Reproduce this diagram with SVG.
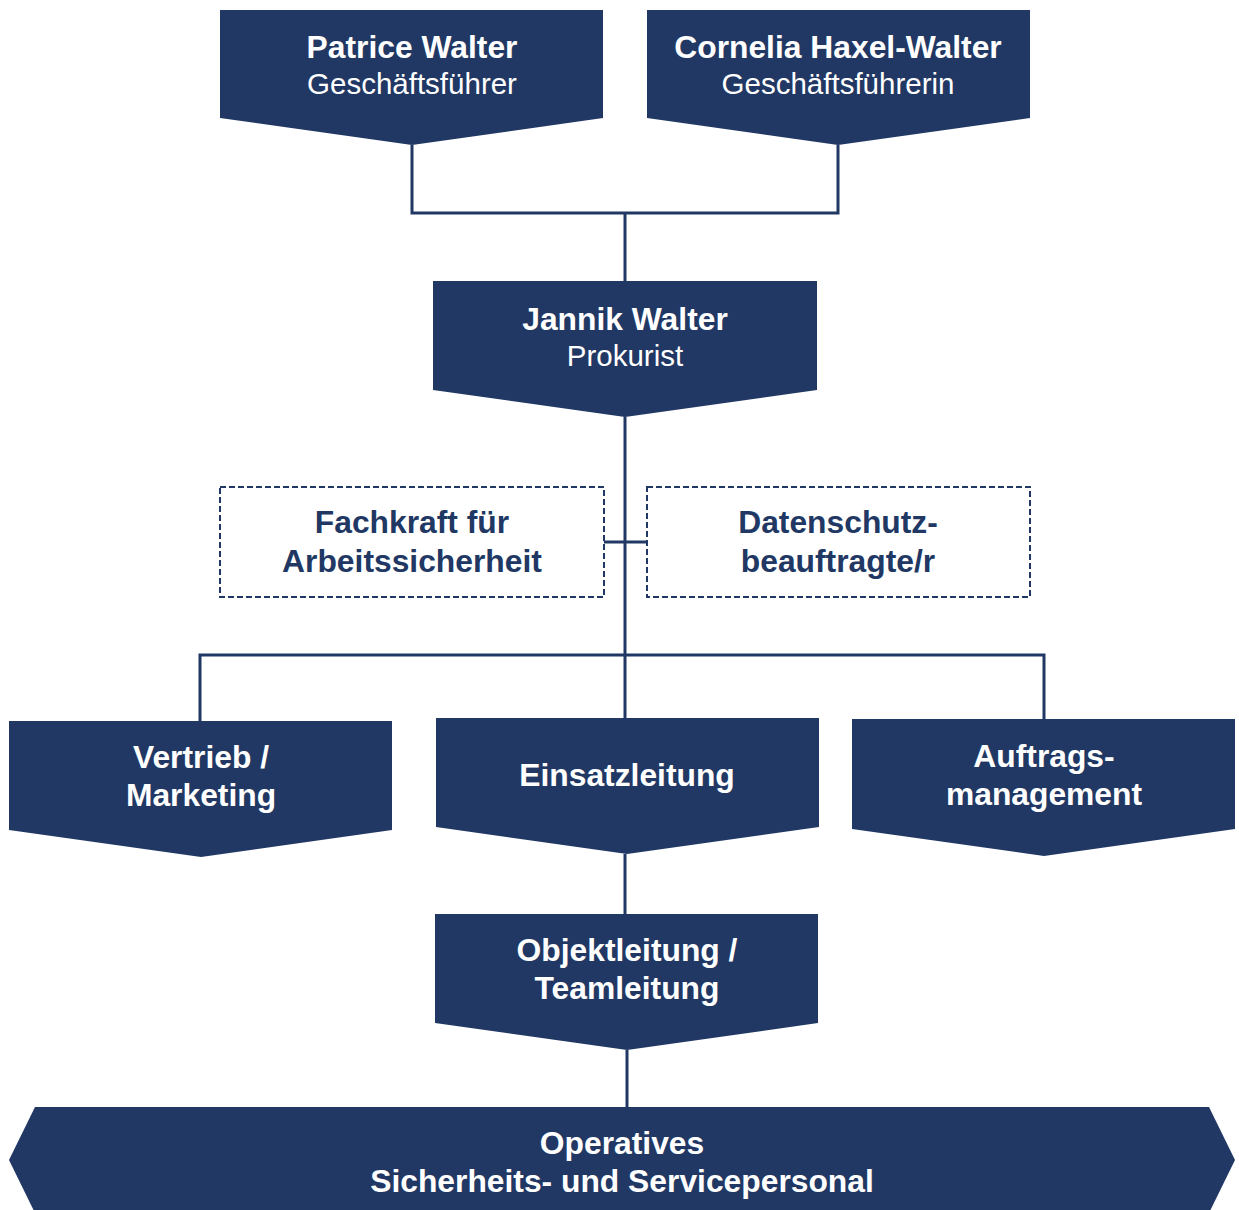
<svg xmlns="http://www.w3.org/2000/svg" width="1239" height="1210" viewBox="0 0 1239 1210">
<style>
.n{fill:#213864}
.d{fill:#fff;stroke:#213864;stroke-width:2;stroke-dasharray:6 3}
.c{fill:none;stroke:#213864;stroke-width:3}
text{font-family:"Liberation Sans",Arial,sans-serif;font-size:31.8px;text-anchor:middle}
.b{font-weight:bold;fill:#fff}
.r{fill:#fff;font-size:29.5px}
.db{font-weight:bold;fill:#213864}
</style>
<rect width="1239" height="1210" fill="#fff"/>
<g id="connectors">
<path class="c" d="M412 145V213H838V145M625 213V281"/>
<path class="c" d="M625 417V655M604 542H647"/>
<path class="c" d="M200 721V655H1044V719M625 655V718"/>
<path class="c" d="M625 854V914M627 1050V1108"/>
</g>
<g id="patrice">
<polygon class="n" points="220,10 603,10 603,118 412,145 220,118"/>
<text class="b" x="412" y="58">Patrice Walter</text>
<text class="r" x="412" y="94">Geschäftsführer</text>
</g>
<g id="cornelia">
<polygon class="n" points="647,10 1030,10 1030,118 838,145 647,118"/>
<text class="b" x="838" y="58">Cornelia Haxel-Walter</text>
<text class="r" x="838" y="94">Geschäftsführerin</text>
</g>
<g id="jannik">
<polygon class="n" points="433,281 817,281 817,390 625,417 433,390"/>
<text class="b" x="625" y="330">Jannik Walter</text>
<text class="r" x="625" y="366">Prokurist</text>
</g>
<g id="fachkraft">
<rect class="d" x="220" y="487" width="384" height="110"/>
<text class="db" x="412" y="533">Fachkraft für</text>
<text class="db" x="412" y="572">Arbeitssicherheit</text>
</g>
<g id="datenschutz">
<rect class="d" x="647" y="487" width="383" height="110"/>
<text class="db" x="838" y="533">Datenschutz-</text>
<text class="db" x="838" y="572">beauftragte/r</text>
</g>
<g id="vertrieb">
<polygon class="n" points="9,721 392,721 392,830 201,857 9,830"/>
<text class="b" x="201" y="768">Vertrieb /</text>
<text class="b" x="201" y="806">Marketing</text>
</g>
<g id="einsatz">
<polygon class="n" points="436,718 819,718 819,827 627,854 436,827"/>
<text class="b" x="627" y="786">Einsatzleitung</text>
</g>
<g id="auftrag">
<polygon class="n" points="852,719 1235,719 1235,829 1044,856 852,829"/>
<text class="b" x="1044" y="767">Auftrags-</text>
<text class="b" x="1044" y="805">management</text>
</g>
<g id="objekt">
<polygon class="n" points="435,914 818,914 818,1023 627,1050 435,1023"/>
<text class="b" x="627" y="961">Objektleitung /</text>
<text class="b" x="627" y="999">Teamleitung</text>
</g>
<g id="operatives">
<polygon class="n" points="35,1107 1209,1107 1235,1160 1209,1213 35,1213 9,1160"/>
<text class="b" x="622" y="1154">Operatives</text>
<text class="b" x="622" y="1192">Sicherheits- und Servicepersonal</text>
</g>
</svg>
